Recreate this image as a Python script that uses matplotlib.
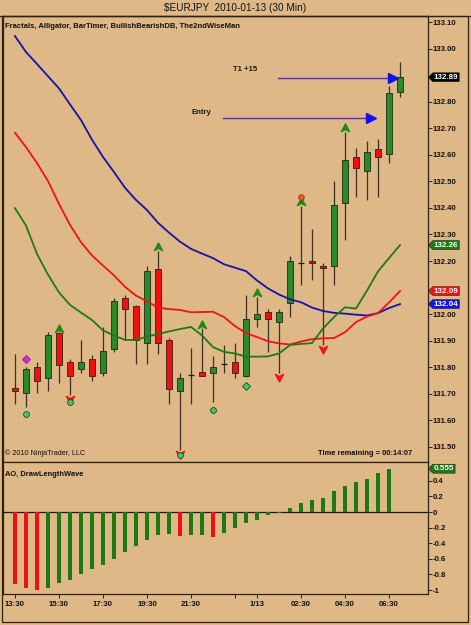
import matplotlib
matplotlib.use("Agg")
import matplotlib.pyplot as plt
import numpy as np
from matplotlib.path import Path
from matplotlib.patches import Rectangle
from matplotlib.transforms import blended_transform_factory

BG = '#DEB887'
plt.rcParams['font.family'] = ['Liberation Sans', 'DejaVu Sans']

# --- candles, 30 min bars from 13:30 (2010-01-12) to 07:00 ---
opens = [131.721, 131.702, 131.802, 131.760, 131.929, 131.821, 131.792, 131.830, 131.780, 131.870,
         132.062, 132.030, 131.890, 132.171, 131.903, 131.712, 131.770, 131.781, 131.780, 131.812,
         131.821, 131.768, 131.981, 132.009, 131.972, 132.041, 132.192, 132.200, 132.181, 132.181,
         132.420, 132.591, 132.540, 132.622, 132.602, 132.838]
highs = [131.850, 131.802, 131.821, 131.934, 131.932, 131.830, 131.903, 131.846, 131.951, 132.062,
         132.072, 132.035, 132.181, 132.238, 131.909, 131.780, 131.871, 131.947, 131.842, 131.884,
         131.893, 132.072, 132.065, 132.019, 132.019, 132.219, 132.407, 132.321, 132.194, 132.501,
         132.686, 132.624, 132.652, 132.659, 132.859, 132.951]
lows = [131.662, 131.652, 131.702, 131.711, 131.740, 131.696, 131.780, 131.750, 131.768, 131.859,
        131.903, 131.811, 131.811, 131.850, 131.661, 131.489, 131.661, 131.766, 131.668, 131.777,
        131.758, 131.765, 131.951, 131.859, 131.777, 131.988, 132.110, 132.129, 131.884, 132.110,
        132.279, 132.440, 132.430, 132.440, 132.568, 132.819]
closes = [131.712, 131.792, 131.750, 131.920, 131.810, 131.768, 131.821, 131.768, 131.861, 132.050,
          132.019, 131.903, 132.163, 131.890, 131.719, 131.761, 131.770, 131.768, 131.802, 131.812,
          131.780, 131.981, 132.001, 131.981, 132.009, 132.200, 132.192, 132.192, 132.173, 132.411,
          132.580, 132.549, 132.612, 132.591, 132.832, 132.892]

# --- alligator ---
jaw = [133.047, 132.987, 132.942, 132.896, 132.850, 132.790, 132.731, 132.657, 132.592, 132.535,
       132.476, 132.430, 132.392, 132.344, 132.307, 132.273, 132.246, 132.228, 132.211, 132.188,
       132.175, 132.162, 132.127, 132.097, 132.074, 132.056, 132.045, 132.025, 132.012, 132.005,
       132.002, 131.998, 131.995, 132.004, 132.023, 132.038]
teeth = [132.683, 132.629, 132.569, 132.501, 132.415, 132.336, 132.271, 132.221, 132.183, 132.146,
         132.103, 132.070, 132.048, 132.025, 132.019, 132.016, 132.007, 132.008, 132.009, 131.989,
         131.955, 131.929, 131.914, 131.898, 131.890, 131.886, 131.897, 131.906, 131.909, 131.910,
         131.932, 131.970, 131.991, 132.004, 132.044, 132.087]
lips = [132.399, 132.334, 132.227, 132.149, 132.082, 132.035, 132.006, 131.978, 131.939, 131.920,
        131.903, 131.903, 131.916, 131.925, 131.935, 131.944, 131.952, 131.920, 131.876, 131.858,
        131.852, 131.840, 131.840, 131.841, 131.852, 131.884, 131.888, 131.891, 131.946, 131.989,
        132.026, 132.021, 132.089, 132.161, 132.211, 132.260]

# --- fractals and signal dots ---
fractal_up = [4, 13, 17, 22, 26, 30]
fractal_dn = [5, 15, 24, 28]
green_dot_bars = [1, 5, 15, 18]
green_dot_prices = [131.623, 131.669, 131.471, 131.640]
green_diamond_bars = [21]
green_diamond_prices = [131.731]
magenta_bars = [1]
magenta_prices = [131.831]
orange_bars = [26]
orange_prices = [132.442]

# --- AO ---
ao = [-0.92, -0.97, -1.00, -0.98, -0.91, -0.87, -0.79, -0.73, -0.675, -0.60,
      -0.51, -0.44, -0.36, -0.29, -0.28, -0.31, -0.295, -0.295, -0.32, -0.27,
      -0.20, -0.145, -0.10, -0.04, -0.015, 0.05, 0.12, 0.16, 0.18, 0.27,
      0.33, 0.38, 0.42, 0.50, 0.555]
ao_red_bars = [0, 1, 2, 15, 18]

# --- axes text ---
tick_bars = [0, 4, 8, 12, 16, 20, 22, 26, 30, 34]
tick_labels = ['13:30', '15:30', '17:30', '19:30', '21:30', '', '1/13', '02:30', '04:30', '06:30']
# 132.10 and 132.90 are hidden behind the price tags
price_ticks = [131.5, 131.6, 131.7, 131.8, 131.9, 132.0, 132.2, 132.3,
               132.4, 132.5, 132.6, 132.7, 132.8, 133.0, 133.1]
ao_ticks = [0.4, 0.2, 0, -0.2, -0.4, -0.6, -0.8, -1]
ao_tick_labels = ['0.4', '0.2', '0', '-0.2', '-0.4', '-0.6', '-0.8', '-1']

# drawing objects
entry_price = 132.740
entry_from, entry_to = 18.9, 32.9
t1_price = 132.890
t1_from, t1_to = 23.9, 34.85

UP_C = '#2A8A2A'
DN_C = '#F01010'
FRAME = '#2b2218'

n = len(opens)
xs = np.arange(n)

fig = plt.figure(figsize=(4.71, 6.25), dpi=100, facecolor=BG)
ax = fig.add_axes([3 / 471, 1 - 462 / 625, 424.5 / 471, 446 / 625], facecolor=BG)
ax2 = fig.add_axes([3 / 471, 1 - 594 / 625, 424.5 / 471, 132 / 625], facecolor=BG)

# candles
o = np.array(opens); c = np.array(closes); h = np.array(highs); l = np.array(lows)
ax.vlines(xs, l, h, color='#3a3026', lw=0.9, zorder=2)
up = c > o
dn = c < o
dj = c == o
ax.bar(xs[up], (c - o)[up], bottom=o[up], width=0.52, color=UP_C, edgecolor='#1b2a12', lw=0.6, zorder=3)
ax.bar(xs[dn], (o - c)[dn], bottom=c[dn], width=0.52, color=DN_C, edgecolor='#3a1a10', lw=0.6, zorder=3)
ax.hlines(c[dj], xs[dj] - 0.3, xs[dj] + 0.3, color='#1a1a1a', lw=0.9, zorder=3)

# alligator
ax.plot(xs, jaw, color='#1414A8', lw=1.3, zorder=4)
ax.plot(xs, teeth, color='#F01414', lw=1.3, zorder=4)
ax.plot(xs, lips, color='#1E7A14', lw=1.3, zorder=4)

# fractal arrows
chev = Path([(0, 1), (0.9, -0.7), (0, -0.2), (-0.9, -0.7), (0, 1)],
            [Path.MOVETO, Path.LINETO, Path.LINETO, Path.LINETO, Path.CLOSEPOLY])
chev_dn = Path([(0, -1), (0.9, 0.7), (0, 0.2), (-0.9, 0.7), (0, -1)],
               [Path.MOVETO, Path.LINETO, Path.LINETO, Path.LINETO, Path.CLOSEPOLY])
ax.plot(xs[fractal_up], h[fractal_up] + 0.014, ls='none', marker=chev, ms=6.5,
        color='#1E8A14', mec='#1E8A14', zorder=5)
ax.plot(xs[fractal_dn], l[fractal_dn] - 0.014, ls='none', marker=chev_dn, ms=6.5,
        color='#F01414', mec='#F01414', zorder=5)

ax.plot(green_dot_bars, green_dot_prices, ls='none', marker='o', ms=4.2,
        mfc='#3CCB6A', mec='#1a4a1a', mew=0.6, zorder=5)
ax.plot(green_diamond_bars, green_diamond_prices, ls='none', marker='D', ms=3.6,
        mfc='#3CCB6A', mec='#1a4a1a', mew=0.6, zorder=5)
ax.plot(magenta_bars, magenta_prices, ls='none', marker='D', ms=4,
        mfc='#D030D0', mec='#802080', mew=0.6, zorder=5)
ax.plot(orange_bars, orange_prices, ls='none', marker='o', ms=4,
        mfc='#F05A28', mec='#903010', mew=0.6, zorder=5)

# entry / target arrows
for y0, x0, x1 in [(entry_price, entry_from, entry_to), (t1_price, t1_from, t1_to)]:
    ax.plot([x0, x1 - 0.7], [y0, y0], color='#E8A8B0', lw=2.2, zorder=3, solid_capstyle='butt')
    ax.plot([x0, x1 - 0.7], [y0, y0], color='#4A3AA0', lw=1.0, zorder=3)
    ax.plot([x1 - 0.5], [y0], ls='none', marker='>', ms=7, color='#1010F0', zorder=4)
ax.text(16.9, 132.761, 'Entry', fontsize=5.6, fontweight='bold', color='#1a1a1a',
        ha='center', va='center')
ax.text(20.9, 132.923, 'T1 +15', fontsize=5.6, fontweight='bold', color='#1a1a1a',
        ha='center', va='center')

ax.set_xlim(-1.09, 37.5)
ax.set_ylim(131.4434, 133.1226)
ax.set_xticks([])
ax.yaxis.tick_right()
ax.set_yticks(price_ticks)
ax.set_yticklabels([f'{v:.2f}' for v in price_ticks])
ax.tick_params(axis='y', direction='out', length=3, width=0.7, color=FRAME, pad=1,
               labelsize=5.6, labelcolor='#111111')
for t in ax.get_yticklabels():
    t.set_fontweight('bold')
for s in ax.spines.values():
    s.set_color(FRAME)
    s.set_linewidth(0.9)

ax.text(0.005, 0.985, 'Fractals, Alligator, BarTimer, BullishBearishDB, The2ndWiseMan',
        transform=ax.transAxes, fontsize=5.5, fontweight='bold', color='#111111', va='top', ha='left')
ax.text(0.005, 0.012, '\u00a9 2010 NinjaTrader, LLC', transform=ax.transAxes,
        fontsize=5.2, color='#111111', va='bottom', ha='left')
ax.text(0.963, 0.012, 'Time remaining = 00:14:07', transform=ax.transAxes,
        fontsize=5.4, fontweight='bold', color='#111111', va='bottom', ha='right')


def tag_box(x0, y0, width, height, mutation_size):
    pad = 0.12 * mutation_size
    x0 -= pad; y0 -= pad; width += 2 * pad; height += 2 * pad
    tip = height * 0.5
    verts = [(x0 - tip, y0 + height / 2), (x0, y0 + height), (x0 + width, y0 + height),
             (x0 + width, y0), (x0, y0), (x0 - tip, y0 + height / 2)]
    codes = [Path.MOVETO, Path.LINETO, Path.LINETO, Path.LINETO, Path.LINETO, Path.CLOSEPOLY]
    return Path(verts, codes)


def price_tag(a, value, text, color):
    tr = blended_transform_factory(a.transAxes, a.transData)
    a.annotate(text, xy=(1.0, value), xycoords=tr, xytext=(4.5, 0), textcoords='offset points',
               ha='left', va='center', fontsize=5.8, fontweight='bold', color='white',
               bbox=dict(boxstyle=tag_box, fc=color, ec='#202020', lw=0.4),
               annotation_clip=False, zorder=10)


price_tag(ax, closes[-1], f'{closes[-1]:.2f}', '#000000')
price_tag(ax, lips[-1], f'{lips[-1]:.2f}', '#1E7A14')
price_tag(ax, teeth[-1], f'{teeth[-1]:.2f}', '#F01414')
price_tag(ax, jaw[-1], f'{jaw[-1]:.2f}', '#1414E0')

# AO panel
ao_x = np.arange(len(ao))
ao_arr = np.array(ao)
ao_col = [DN_C if k in ao_red_bars else '#1C7A10' for k in range(len(ao))]
ax2.bar(ao_x, ao_arr, width=0.36, color=ao_col, zorder=3)
ax2.axhline(0, color='#1a1a1a', lw=0.9, zorder=2)
ax2.set_xlim(-1.09, 37.5)
ax2.set_ylim(-1.051, 0.641)
ax2.yaxis.tick_right()
ax2.set_yticks(ao_ticks)
ax2.set_yticklabels(ao_tick_labels)
ax2.set_xticks(tick_bars)
ax2.set_xticklabels(tick_labels)
ax2.tick_params(axis='y', direction='out', length=3, width=0.7, color=FRAME, pad=1,
                labelsize=5.6, labelcolor='#111111')
ax2.tick_params(axis='x', direction='out', length=3, width=0.7, color=FRAME, pad=2,
                labelsize=5.6, labelcolor='#111111')
for t in ax2.get_yticklabels() + ax2.get_xticklabels():
    t.set_fontweight('bold')
for s in ax2.spines.values():
    s.set_color(FRAME)
    s.set_linewidth(0.9)
ax2.text(0.005, 0.93, 'AO, DrawLengthWave', transform=ax2.transAxes, fontsize=5.4,
         fontweight='bold', color='#111111', va='top', ha='left')
price_tag(ax2, ao[-1], f'{ao[-1]:.3f}', '#1E7A14')

fig.text(0.5, 1 - 8 / 625, '$EURJPY  2010-01-13 (30 Min)', ha='center', va='center',
         fontsize=7.2, color='#111111')
fig.add_artist(plt.Line2D([0, 1], [1 - 16 / 625, 1 - 16 / 625], color=FRAME, lw=0.9))
fig.add_artist(Rectangle((2 / 471, 3 / 625), 466 / 471, 606 / 625, fill=False,
                         ec=FRAME, lw=0.9))

fig.savefig('out.png', dpi=100, facecolor=BG)
